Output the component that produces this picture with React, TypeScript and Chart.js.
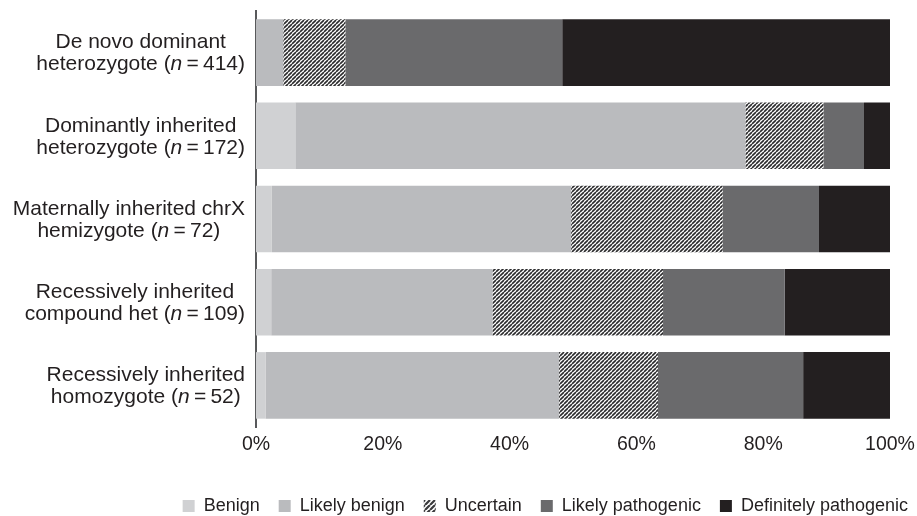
import React, { useEffect, useRef } from "react";
import { Chart, registerables } from "chart.js";

Chart.register(...registerables);

// ---- data ----
const categories: string[][] = [
  ["De novo dominant", "heterozygote (n=414)"],
  ["Dominantly inherited", "heterozygote (n=172)"],
  ["Maternally inherited chrX", "hemizygote (n=72)"],
  ["Recessively inherited", "compound het (n=109)"],
  ["Recessively inherited", "homozygote (n=52)"],
];
const seriesNames = ["Benign", "Likely benign", "Uncertain", "Likely pathogenic", "Definitely pathogenic"];
const benign = [0, 6.2, 2.5, 2.4, 1.5];
const likelyBenign = [4.3, 71.0, 47.2, 34.9, 46.3];
const uncertain = [9.8, 12.3, 23.9, 26.9, 15.6];
const likelyPathogenic = [34.2, 6.4, 15.2, 19.2, 22.9];
const definitelyPathogenic = [51.7, 4.1, 11.2, 16.6, 13.7];
const xTickLabels = ["0%", "20%", "40%", "60%", "80%", "100%"];

// ---- styles ----
const FAMILY = "'Liberation Sans', Arial, Helvetica, sans-serif";
const TEXT = "#231f20";
const COLORS = ["#d0d1d3", "#babbbe", "HATCH", "#6a6a6c", "#231f20"];

function makeHatch(size: number, lw: number, color: string): CanvasPattern | string {
  const c = document.createElement("canvas");
  c.width = size;
  c.height = size;
  const g = c.getContext("2d");
  if (!g) return color;
  g.fillStyle = "#ffffff";
  g.fillRect(0, 0, size, size);
  g.strokeStyle = color;
  g.lineWidth = lw;
  g.beginPath();
  for (let k = -1; k <= 1; k++) {
    g.moveTo(k * size, size);
    g.lineTo(k * size + size, 0);
  }
  g.stroke();
  return g.createPattern(c, "repeat") || color;
}

type Seg = { text: string; italic: boolean };
function parseLine(line: string): Seg[] {
  const m = line.match(/^(.*\()n=(\d+)(\).*)$/);
  if (!m) return [{ text: line, italic: false }];
  return [
    { text: m[1], italic: false },
    { text: "n", italic: true },
    { text: "\u2009=\u2009" + m[2] + m[3], italic: false },
  ];
}

const LABEL_SIZE = 21;
const LINE_GAP = 22;

const yLabelPlugin = {
  id: "yLabelsRich",
  afterDraw(chart: any) {
    const ctx: CanvasRenderingContext2D = chart.ctx;
    const ys = chart.scales.y;
    const right = ys.right - 11;
    const normal = `${LABEL_SIZE}px ${FAMILY}`;
    const italic = `italic ${LABEL_SIZE}px ${FAMILY}`;
    ctx.save();
    ctx.fillStyle = TEXT;
    ctx.textBaseline = "middle";
    ctx.textAlign = "left";
    categories.forEach((lines, i) => {
      const cy = ys.getPixelForValue(i) + 1;
      const segs = lines.map(parseLine);
      const widths = segs.map((s) =>
        s.reduce((w, seg) => {
          ctx.font = seg.italic ? italic : normal;
          return w + ctx.measureText(seg.text).width;
        }, 0)
      );
      const maxW = Math.max(...widths);
      const cx = right - maxW / 2;
      segs.forEach((s, j) => {
        let x = cx - widths[j] / 2;
        const ly = cy + (j - (segs.length - 1) / 2) * LINE_GAP;
        s.forEach((seg) => {
          ctx.font = seg.italic ? italic : normal;
          ctx.fillText(seg.text, x, ly);
          x += ctx.measureText(seg.text).width;
        });
      });
    });
    ctx.restore();
  },
};

const LEGEND_PAD = 19;
const legendShiftPlugin = {
  id: "legendShift",
  afterLayout(chart: any) {
    const lg = chart.legend;
    if (!lg) return;
    const dx = 908 + LEGEND_PAD - lg.right;
    lg.left += dx;
    lg.right += dx;
    const dy = 506 - (LEGEND_PAD + 9) - lg.top;
    lg.top += dy;
    lg.bottom += dy;
  },
};

export default function App() {
  const ref = useRef<HTMLCanvasElement | null>(null);

  useEffect(() => {
    if (!ref.current) return;
    const hatch = makeHatch(4, 1.6, "#2b2b2d");
    const legendHatch = makeHatch(5, 2.2, "#3a3a3c");
    const seriesValues = [benign, likelyBenign, uncertain, likelyPathogenic, definitelyPathogenic];
    const datasets = seriesNames.map((name, i) => ({
      label: name,
      data: seriesValues[i],
      backgroundColor: COLORS[i] === "HATCH" ? (hatch as any) : COLORS[i],
      borderWidth: 0,
      barPercentage: 0.8,
      categoryPercentage: 1.0,
    }));

    const chart = new Chart(ref.current, {
      type: "bar",
      data: {
        labels: categories.map((l) => l.join(" ")),
        datasets,
      },
      options: {
        indexAxis: "y",
        animation: false,
        responsive: false,
        maintainAspectRatio: false,
        layout: { padding: { top: 11, right: 27, left: 0, bottom: 0 } },
        plugins: {
          tooltip: { enabled: false },
          legend: {
            position: "bottom",
            align: "end",
            labels: {
              font: { size: 18, family: FAMILY },
              color: TEXT,
              boxWidth: 12,
              boxHeight: 12,
              padding: LEGEND_PAD,
              generateLabels(c: any) {
                const items = (Chart.defaults as any).plugins.legend.labels.generateLabels(c);
                items.forEach((it: any, i: number) => {
                  it.lineWidth = 0;
                  it.strokeStyle = "rgba(0,0,0,0)";
                  if (i === 2) it.fillStyle = legendHatch;
                });
                return items;
              },
            },
          },
        },
        scales: {
          x: {
            stacked: true,
            min: 0,
            max: 100,
            ticks: {
              stepSize: 20,
              maxRotation: 0,
              padding: 6,
              color: TEXT,
              font: { size: 19.5, family: FAMILY },
              callback: (_v: any, i: number) => xTickLabels[i],
            },
            grid: { display: false, drawTicks: false },
            border: { display: false },
            afterFit: (s: any) => {
              s.height = 42;
              s.paddingRight = 0;
              s.paddingLeft = 0;
            },
          },
          y: {
            stacked: true,
            ticks: { display: false },
            grid: { display: false, drawTicks: false },
            border: { display: true, color: "#58595b", width: 2 },
            afterFit: (s: any) => {
              s.width = 256;
            },
          },
        },
      },
      plugins: [yLabelPlugin, legendShiftPlugin],
    } as any);

    return () => chart.destroy();
  }, []);

  return (
    <div style={{ position: "absolute", left: 0, top: 0, width: 917, height: 516, background: "#fff" }}>
      <canvas ref={ref} width={917} height={516} style={{ display: "block" }} />
    </div>
  );
}
